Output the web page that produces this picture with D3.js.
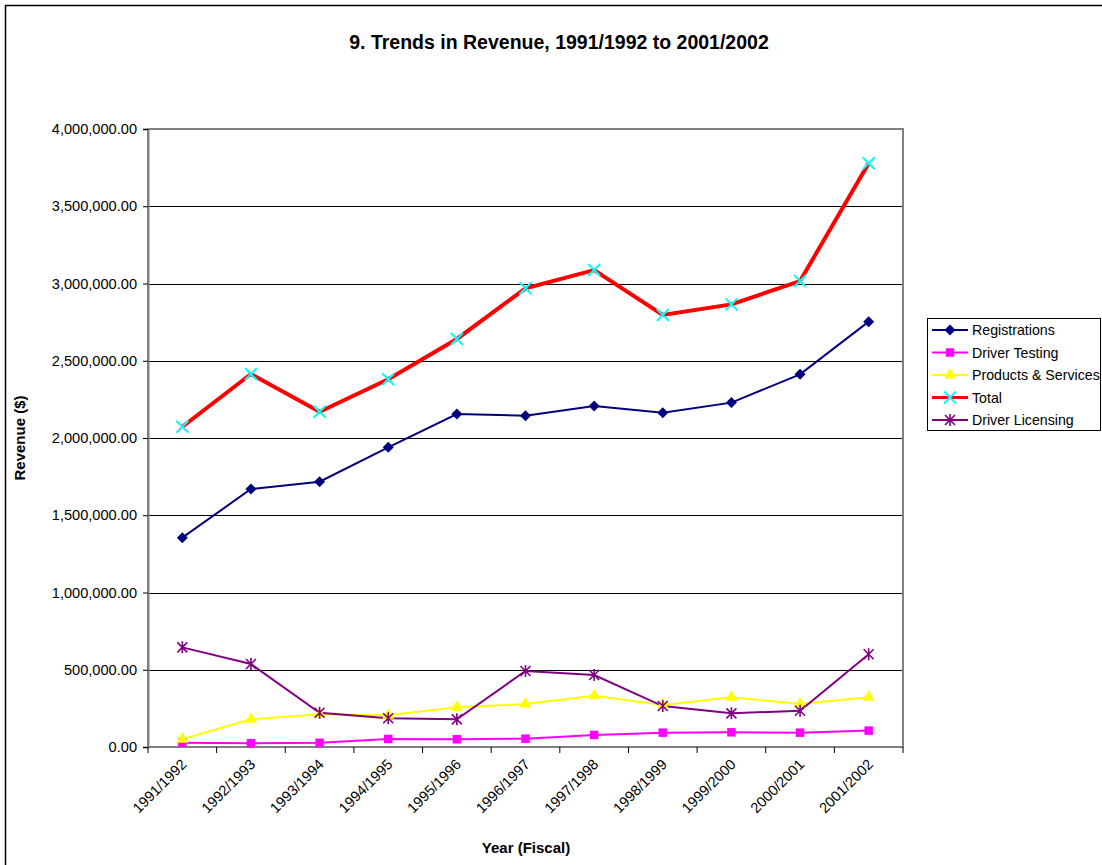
<!DOCTYPE html>
<html>
<head>
<meta charset="utf-8">
<script src="https://cdn.jsdelivr.net/npm/d3@7"></script>
<style>
  html, body { margin: 0; padding: 0; background: #fff; }
  svg { display: block; font-family: "Liberation Sans", Arial, sans-serif; }
</style>
</head>
<body>
<svg id="chart" width="1102" height="865"></svg>
<script>
// ---- data ----
const categories = ["1991/1992","1992/1993","1993/1994","1994/1995","1995/1996","1996/1997","1997/1998","1998/1999","1999/2000","2000/2001","2001/2002"];
const registrations   = [1355000,1670000,1717000,1940000,2155000,2144000,2207000,2164000,2229000,2412000,2753000];
const driverTesting   = [28000,24000,27000,52000,50000,54000,78000,93000,95000,93000,106000];
const productsServices= [50000,179000,212000,205000,257000,278000,332000,272000,322000,278000,322000];
const total           = [2073000,2414000,2170000,2380000,2641000,2969000,3087000,2796000,2865000,3016000,3778000];
const driverLicensing = [645000,537000,222000,186000,179000,492000,466000,265000,218000,235000,600000];
const yTicks = [0,500000,1000000,1500000,2000000,2500000,3000000,3500000,4000000];

const seriesList = [
  {name:"Registrations",        values:registrations,    color:"#000080", marker:"diamond",  mcolor:"#000080", width:2},
  {name:"Driver Testing",       values:driverTesting,    color:"#FF00FF", marker:"square",   mcolor:"#FF00FF", width:2},
  {name:"Products & Services",  values:productsServices, color:"#FFFF00", marker:"triangle", mcolor:"#FFFF00", width:2},
  {name:"Total",                values:total,            color:"#FF0000", marker:"x",        mcolor:"#00FFFF", width:4},
  {name:"Driver Licensing",     values:driverLicensing,  color:"#800080", marker:"star",     mcolor:"#800080", width:2}
];

const svg = d3.select("#chart");
const L = 148, T = 129, R = 903, B = 747;

// outer border
svg.append("rect").attr("x",5.5).attr("y",5.5).attr("width",1110).attr("height",880)
  .attr("fill","#fff").attr("stroke","#000").attr("stroke-width",1.5);

const x = d3.scaleBand().domain(categories).range([L,R]).padding(0);
const y = d3.scaleLinear().domain([0,4000000]).range([B,T]);
const cx = c => x(c) + x.bandwidth()/2;

// gridlines
svg.append("g").selectAll("line").data(yTicks.filter(d=>d>0)).join("line")
  .attr("x1",L).attr("x2",R).attr("y1",d=>Math.round(y(d))+0.5).attr("y2",d=>Math.round(y(d))+0.5)
  .attr("stroke","#000").attr("stroke-width",1);

// plot border
svg.append("rect").attr("x",L).attr("y",T).attr("width",R-L).attr("height",B-T)
  .attr("fill","none").attr("stroke","#808080").attr("stroke-width",2);

// y axis
const yAxis = d3.axisLeft(y).tickValues(yTicks).tickFormat(d3.format(",.2f")).tickSize(5).tickPadding(6);
const gy = svg.append("g").attr("transform",`translate(${L},0)`).call(yAxis);
gy.select(".domain").attr("stroke","#808080").attr("stroke-width",2);
gy.selectAll(".tick line").attr("stroke","#000");
gy.selectAll(".tick text").attr("font-size",14.6).attr("fill","#000").attr("font-family","Liberation Sans, Arial, sans-serif");

// x axis: ticks at band boundaries
const boundaries = categories.map(c=>x(c)).concat([R]);
svg.append("g").selectAll("line").data(boundaries).join("line")
  .attr("x1",d=>d).attr("x2",d=>d).attr("y1",B).attr("y2",B+6)
  .attr("stroke","#000");
const xAxis = d3.axisBottom(x).tickSize(0).tickPadding(0);
const gx = svg.append("g").attr("transform",`translate(0,${B})`).call(xAxis);
gx.select(".domain").remove();
gx.selectAll(".tick text")
  .attr("font-size",14.6).attr("fill","#000").attr("font-family","Liberation Sans, Arial, sans-serif")
  .attr("text-anchor","end")
  .attr("transform","translate(-2,11) rotate(-45)")
  .attr("dy","0.7em").attr("y",0);

// lines
const lineGen = d3.line().x((d,i)=>cx(categories[i])).y(d=>y(d));
seriesList.forEach(s=>{
  svg.append("path").datum(s.values).attr("d",lineGen)
    .attr("fill","none").attr("stroke",s.color).attr("stroke-width",s.width)
    .attr("stroke-linejoin","miter");
});

// markers
function drawMarker(g, type, color, px, py){
  if(type==="diamond"){
    const r=5.5;
    const p=d3.path(); p.moveTo(0,-r); p.lineTo(r,0); p.lineTo(0,r); p.lineTo(-r,0); p.closePath();
    g.append("path").attr("d",p.toString())
      .attr("transform",`translate(${px},${py})`).attr("fill",color);
  } else if(type==="square"){
    g.append("path").attr("d",d3.symbol().type(d3.symbolSquare).size(72)())
      .attr("transform",`translate(${px},${py})`).attr("fill",color);
  } else if(type==="triangle"){
    g.append("path").attr("d",d3.symbol().type(d3.symbolTriangle).size(64)())
      .attr("transform",`translate(${px},${py})`).attr("fill",color);
  } else if(type==="x"){
    const r=6;
    const p=d3.path(); p.moveTo(-r,-r); p.lineTo(r,r); p.moveTo(-r,r); p.lineTo(r,-r);
    g.append("path").attr("d",p.toString()).attr("transform",`translate(${px},${py})`)
      .attr("stroke",color).attr("stroke-width",2).attr("fill","none");
  } else if(type==="star"){
    const r=5;
    const p=d3.path(); p.moveTo(-r,-r); p.lineTo(r,r); p.moveTo(-r,r); p.lineTo(r,-r); p.moveTo(0,-r-1); p.lineTo(0,r+1);
    g.append("path").attr("d",p.toString()).attr("transform",`translate(${px},${py})`)
      .attr("stroke",color).attr("stroke-width",1.6).attr("fill","none");
  }
}
seriesList.forEach(s=>{
  const g = svg.append("g");
  s.values.forEach((v,i)=>drawMarker(g, s.marker, s.mcolor, cx(categories[i]), y(v)));
});

// legend
const lg = svg.append("g");
lg.append("rect").attr("x",927.5).attr("y",318.5).attr("width",173).attr("height",112)
  .attr("fill","#fff").attr("stroke","#000").attr("stroke-width",1);
seriesList.forEach((s,i)=>{
  const ly = 330 + i*22.5;
  lg.append("line").attr("x1",932).attr("x2",968).attr("y1",ly).attr("y2",ly)
    .attr("stroke",s.color).attr("stroke-width",s.width===4?3:2);
  drawMarker(lg, s.marker, s.mcolor, 950, ly);
  lg.append("text").attr("x",972).attr("y",ly).attr("dy","0.36em")
    .attr("font-size",14.2).attr("fill","#000").text(s.name);
});

// titles
svg.append("text").attr("x",559).attr("y",49).attr("text-anchor","middle")
  .attr("font-size",19.5).attr("font-weight","bold").text("9. Trends in Revenue, 1991/1992 to 2001/2002");
svg.append("text").attr("x",526).attr("y",853).attr("text-anchor","middle")
  .attr("font-size",15).attr("font-weight","bold").text("Year (Fiscal)");
svg.append("text").attr("transform","translate(25,438) rotate(-90)").attr("text-anchor","middle")
  .attr("font-size",15).attr("font-weight","bold").text("Revenue ($)");
</script>
</body>
</html>
